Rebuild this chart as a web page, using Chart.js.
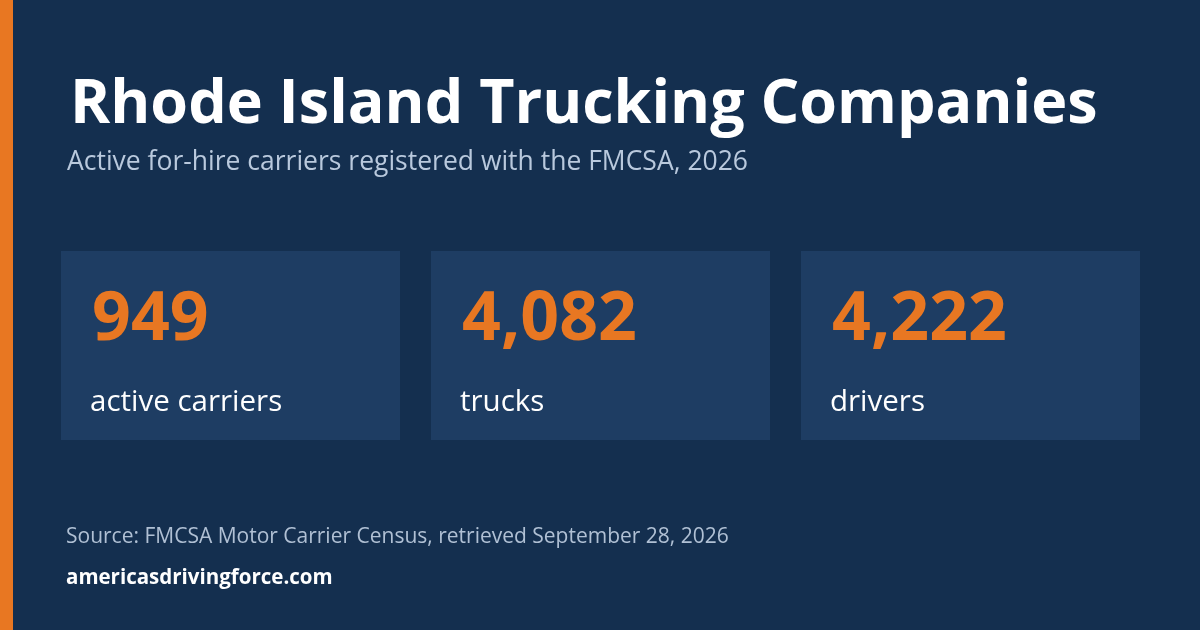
<!DOCTYPE html>
<html>
<head>
<meta charset="utf-8">
<script src="https://cdn.jsdelivr.net/npm/chart.js@4"></script>
<style>
  html, body { margin: 0; padding: 0; background: #142f4f; }
  #wrap { width: 1200px; height: 630px; position: relative; }
</style>
</head>
<body>
<div id="wrap"><canvas id="card" width="1200" height="630"></canvas></div>
<script>
const title = "Rhode Island Trucking Companies";
const subtitle = "Active for-hire carriers registered with the FMCSA, 2026";
const statLabels = ["active carriers", "trucks", "drivers"];
const statValues = [949, 4082, 4222];
const source = "Source: FMCSA Motor Carrier Census, retrieved September 28, 2026";
const site = "americasdrivingforce.com";

const FONT = '"Open Sans", "Noto Sans", sans-serif';

// texte + fond dessinés autour des cartes
const cardText = {
    id: "cardText",
    beforeDraw(chart) {
        const c = chart.ctx;
        c.save();
        c.fillStyle = "#142f4f";
        c.fillRect(0, 0, chart.width, chart.height);
        c.fillStyle = "#e87722";
        c.fillRect(0, 0, 13, chart.height);
        c.restore();
    },
    afterDatasetsDraw(chart) {
        const c = chart.ctx;
        c.save();
        c.textBaseline = "alphabetic";
        c.textAlign = "left";
        c.fillStyle = "#ffffff";
        c.font = "bold 61px " + FONT;
        c.fillText(title, 70, 123);
        c.fillStyle = "#b9c9dd";
        c.font = "26.5px " + FONT;
        c.fillText(subtitle, 67, 170);

        const meta = chart.getDatasetMeta(0);
        meta.data.forEach((bar, i) => {
            const left = bar.x - bar.width / 2;
            c.fillStyle = "#e87722";
            c.font = "bold 68px " + FONT;
            c.fillText(statValues[i].toLocaleString("en-US"), left + 31, 340);
            c.fillStyle = "#ffffff";
            c.font = "29.5px " + FONT;
            c.fillText(statLabels[i], left + 29, 411);
        });

        c.fillStyle = "#b0c0d4";
        c.font = "21px " + FONT;
        c.fillText(source, 66, 543);
        c.fillStyle = "#ffffff";
        c.font = "bold 20.5px " + FONT;
        c.fillText(site, 66, 584);
        c.restore();
    }
};

new Chart(document.getElementById("card").getContext("2d"), {
    type: "bar",
    data: {
        labels: statLabels,
        datasets: [{
            data: statValues.map(() => [0, 1]),
            backgroundColor: "#1e3d63",
            borderWidth: 0,
            categoryPercentage: 1,
            barPercentage: 339 / 370
        }]
    },
    options: {
        responsive: false,
        animation: false,
        devicePixelRatio: 1,
        layout: { padding: { left: 45.5, right: 44.5, top: 251, bottom: 190 } },
        plugins: { legend: { display: false }, tooltip: { enabled: false } },
        scales: {
            x: { display: false },
            y: { display: false, min: 0, max: 1 }
        }
    },
    plugins: [cardText]
});
</script>
</body>
</html>
